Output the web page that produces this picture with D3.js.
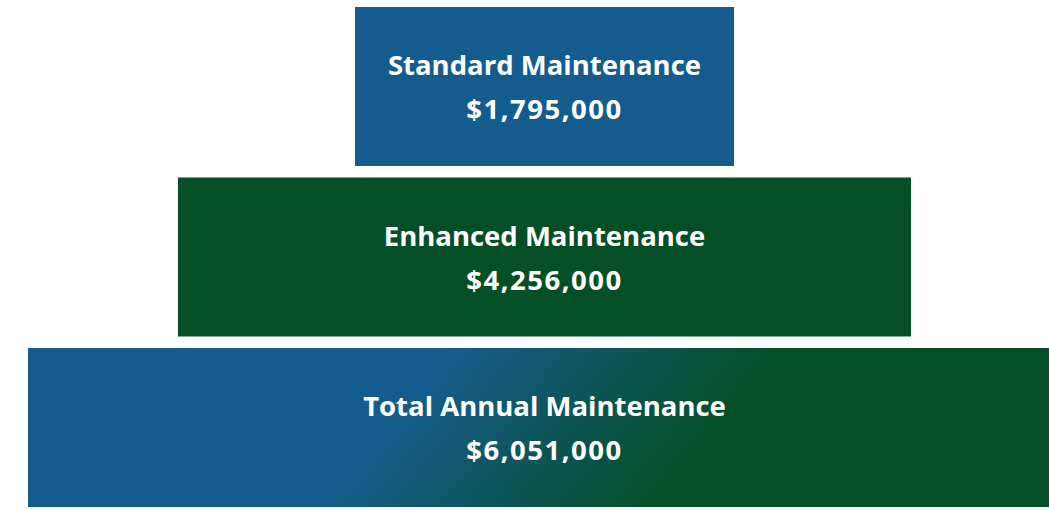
<!DOCTYPE html>
<html lang="en">
<head>
<meta charset="utf-8">
<script src="https://cdn.jsdelivr.net/npm/d3@7"></script>
<style>
  body { margin: 0; background: #fff; overflow: hidden; }
  svg { display: block; }
</style>
</head>
<body>
<svg width="1049" height="510"></svg>
<script>
// data
const categories = ['Standard Maintenance', 'Enhanced Maintenance', 'Total Annual Maintenance'];
const amounts = [1795000, 4256000, 6051000];

const svg = d3.select('svg');
const centerX = 544.5;

// box heights via band scale, widths via piecewise value scale
const y = d3.scaleBand()
  .domain(categories)
  .range([7, 507])
  .paddingInner(0.0674)
  .paddingOuter(0);

const w = d3.scaleLinear()
  .domain(amounts)
  .range([379, 733, 1033]);

const fmt = d3.format('$,');

const defs = svg.append('defs');
const grad = defs.append('linearGradient')
  .attr('id', 'totalGrad')
  .attr('gradientUnits', 'userSpaceOnUse')
  .attr('x1', 448).attr('y1', 344)
  .attr('x2', 652).attr('y2', 511);
grad.append('stop').attr('offset', '0%').attr('stop-color', '#155c8e');
grad.append('stop').attr('offset', '100%').attr('stop-color', '#054f26');

const fills = ['#155c8e', '#054f26', 'url(#totalGrad)'];

const rows = svg.selectAll('g.row')
  .data(categories)
  .enter()
  .append('g')
  .attr('class', 'row');

rows.append('rect')
  .attr('x', (d, i) => centerX - w(amounts[i]) / 2)
  .attr('y', d => y(d))
  .attr('width', (d, i) => w(amounts[i]))
  .attr('height', y.bandwidth())
  .attr('fill', (d, i) => fills[i]);

rows.append('text')
  .attr('x', centerX)
  .attr('y', d => y(d) + y.bandwidth() / 2 - 11.5)
  .attr('text-anchor', 'middle')
  .style('font-family', '"Open Sans", sans-serif')
  .style('font-weight', 700)
  .style('font-size', '27.5px')
  .style('fill', '#fff')
  .text(d => d);

rows.append('text')
  .attr('x', centerX)
  .attr('y', d => y(d) + y.bandwidth() / 2 + 32.5)
  .attr('text-anchor', 'middle')
  .style('font-family', '"Open Sans", sans-serif')
  .style('font-weight', 700)
  .style('font-size', '27.5px')
  .style('letter-spacing', '1.5px')
  .style('fill', '#fff')
  .text((d, i) => fmt(amounts[i]));
</script>
</body>
</html>
